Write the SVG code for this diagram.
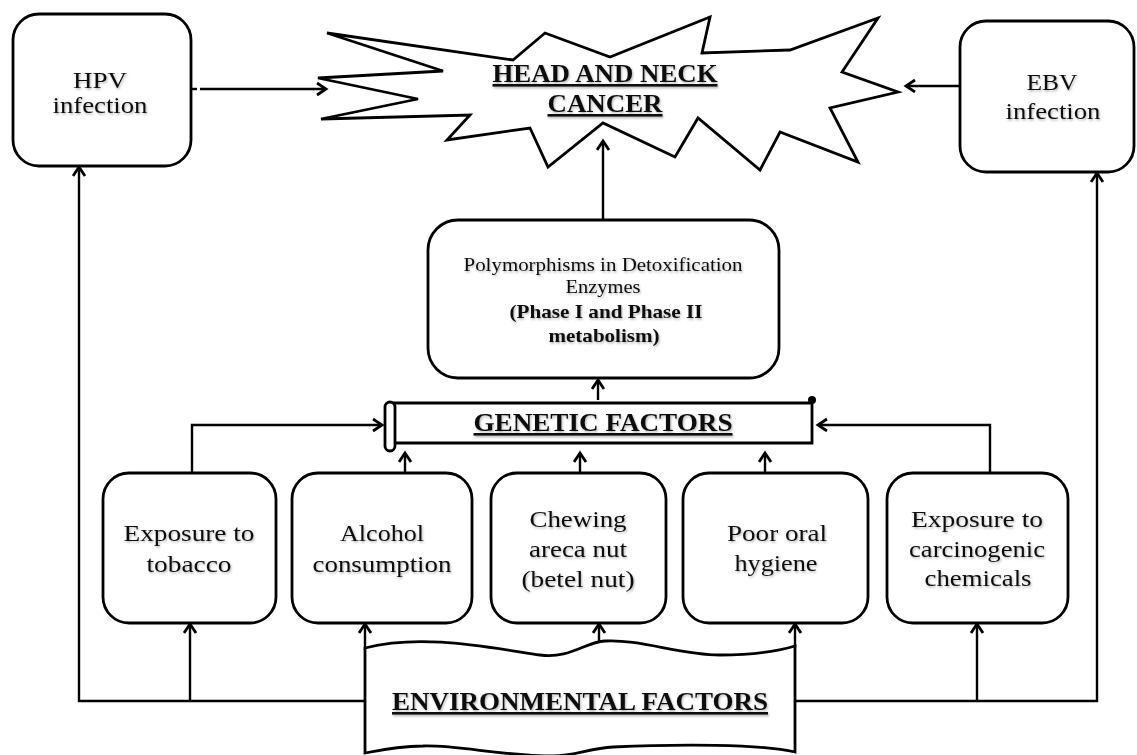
<svg xmlns="http://www.w3.org/2000/svg" width="1137" height="755" viewBox="0 0 1137 755">
<style>
.box{fill:#fff;stroke:#000;stroke-width:2.8}
.ln{fill:none;stroke:#000;stroke-width:2.4}
.t{font-family:"Liberation Serif","Times New Roman",serif;font-size:24px;fill:#111;text-anchor:middle}
.tp{font-family:"Liberation Serif","Times New Roman",serif;font-size:19px;fill:#111;text-anchor:middle}
.h{font-size:26px}
.b{font-weight:bold}
.u{text-decoration:underline}
.sh{filter:url(#shadow)}
</style>
<defs>
<filter id="shadow" x="-10%" y="-30%" width="120%" height="160%">
<feDropShadow dx="1" dy="1.5" stdDeviation="1" flood-color="#000" flood-opacity="0.3"/>
</filter>
<marker id="arr" markerUnits="userSpaceOnUse" markerWidth="16" markerHeight="16" refX="11" refY="7" orient="auto">
<path d="M2,1 L11,7 L2,13" fill="none" stroke="#000" stroke-width="2.8"/>
</marker>
</defs>

<g id="connectors">
<line class="ln" x1="191" y1="89" x2="197" y2="89"/>
<line class="ln" x1="200" y1="89" x2="326" y2="89" marker-end="url(#arr)"/>
<line class="ln" x1="960" y1="86" x2="906" y2="86" marker-end="url(#arr)"/>
<line class="ln" x1="603" y1="220" x2="603" y2="141" marker-end="url(#arr)"/>
<line class="ln" x1="598" y1="400" x2="598" y2="380" marker-end="url(#arr)"/>
<path class="ln" d="M192,473 V425 H382" marker-end="url(#arr)"/>
<path class="ln" d="M990,473 V425 H818" marker-end="url(#arr)"/>
<line class="ln" x1="405" y1="473" x2="405" y2="453" marker-end="url(#arr)"/>
<line class="ln" x1="580" y1="473" x2="580" y2="453" marker-end="url(#arr)"/>
<line class="ln" x1="765" y1="473" x2="765" y2="453" marker-end="url(#arr)"/>
<path class="ln" d="M365,701 H79 V167" marker-end="url(#arr)"/>
<line class="ln" x1="190" y1="701" x2="190" y2="624" marker-end="url(#arr)"/>
<line class="ln" x1="365" y1="650" x2="365" y2="624" marker-end="url(#arr)"/>
<line class="ln" x1="599" y1="645" x2="599" y2="624" marker-end="url(#arr)"/>
<line class="ln" x1="795" y1="648" x2="795" y2="624" marker-end="url(#arr)"/>
<path class="ln" d="M795,701 H1097 V173" marker-end="url(#arr)"/>
<line class="ln" x1="977" y1="701" x2="977" y2="624" marker-end="url(#arr)"/>
</g>

<g id="head-neck-cancer">
<path class="box" d="M327,33 L513,60 L545,33 L610,57 L710,17 L702,53 L790,50 L878,18 L842,72 L898,92 L830,108 L858,162 L780,132 L760,170 L698,118 L675,157 L603,123 L548,167 L530,128 L447,140 L470,115 L321,119 L418,99 L318,78 L443,71 Z"/>
<text class="t h b u sh" x="605" y="82" textLength="225" lengthAdjust="spacingAndGlyphs">HEAD AND NECK</text>
<text class="t h b u sh" x="605" y="112" textLength="115" lengthAdjust="spacingAndGlyphs">CANCER</text>
</g>

<g id="hpv">
<rect class="box" x="13" y="14" width="178" height="152" rx="26"/>
<text class="t sh" x="100" y="88" textLength="54" lengthAdjust="spacingAndGlyphs">HPV</text>
<text class="t sh" x="100" y="113" textLength="95" lengthAdjust="spacingAndGlyphs">infection</text>
</g>

<g id="ebv">
<rect class="box" x="960" y="21" width="174" height="151" rx="26"/>
<text class="t sh" x="1052" y="90" textLength="51" lengthAdjust="spacingAndGlyphs">EBV</text>
<text class="t sh" x="1053" y="119" textLength="95" lengthAdjust="spacingAndGlyphs">infection</text>
</g>

<g id="polymorphisms">
<rect class="box" x="428" y="220" width="351" height="158" rx="30"/>
<text class="tp sh" x="603" y="271" textLength="279" lengthAdjust="spacingAndGlyphs">Polymorphisms in Detoxification</text>
<text class="tp sh" x="603" y="293" textLength="75" lengthAdjust="spacingAndGlyphs">Enzymes</text>
<text class="tp b sh" x="606" y="318" textLength="193" lengthAdjust="spacingAndGlyphs">(Phase I  and Phase II</text>
<text class="tp b sh" x="604" y="342" textLength="111" lengthAdjust="spacingAndGlyphs">metabolism)</text>
</g>

<g id="genetic-factors">
<path class="box" d="M390,403 H812 V443 H390 Z"/>
<rect class="box" x="385" y="402" width="10" height="49" rx="5"/>
<circle cx="812" cy="400" r="4" fill="#000"/>
<text class="t h b u sh" x="603" y="431" textLength="259" lengthAdjust="spacingAndGlyphs">GENETIC  FACTORS</text>
</g>

<g id="tobacco">
<rect class="box" x="103" y="473" width="173" height="150" rx="26"/>
<text class="t sh" x="189" y="541" textLength="131" lengthAdjust="spacingAndGlyphs">Exposure to</text>
<text class="t sh" x="189" y="572" textLength="85" lengthAdjust="spacingAndGlyphs">tobacco</text>
</g>

<g id="alcohol">
<rect class="box" x="292" y="473" width="180" height="150" rx="26"/>
<text class="t sh" x="382" y="541" textLength="84" lengthAdjust="spacingAndGlyphs">Alcohol</text>
<text class="t sh" x="382" y="572" textLength="139" lengthAdjust="spacingAndGlyphs">consumption</text>
</g>

<g id="areca">
<rect class="box" x="491" y="473" width="175" height="150" rx="26"/>
<text class="t sh" x="578" y="527" textLength="97" lengthAdjust="spacingAndGlyphs">Chewing</text>
<text class="t sh" x="578" y="557" textLength="98" lengthAdjust="spacingAndGlyphs">areca nut</text>
<text class="t sh" x="578" y="587" textLength="113" lengthAdjust="spacingAndGlyphs">(betel nut)</text>
</g>

<g id="oral-hygiene">
<rect class="box" x="683" y="473" width="185" height="150" rx="26"/>
<text class="t sh" x="777" y="541" textLength="100" lengthAdjust="spacingAndGlyphs">Poor oral</text>
<text class="t sh" x="776" y="571" textLength="83" lengthAdjust="spacingAndGlyphs">hygiene</text>
</g>

<g id="carcinogenic">
<rect class="box" x="887" y="473" width="181" height="150" rx="26"/>
<text class="t sh" x="977" y="527" textLength="132" lengthAdjust="spacingAndGlyphs">Exposure to</text>
<text class="t sh" x="977" y="557" textLength="136" lengthAdjust="spacingAndGlyphs">carcinogenic</text>
<text class="t sh" x="978" y="586" textLength="107" lengthAdjust="spacingAndGlyphs">chemicals</text>
</g>

<g id="environmental-factors">
<path class="box" d="M365,648 C420,634 480,646 540,655 C570,659 585,642 605,641 C640,639 680,655 720,655 C760,655 785,649 795,646 V752 C760,744 680,744 613,747 C590,748 575,756 553,756 C500,756 460,745 423,746 C400,746 380,750 365,753 Z"/>
<text class="t h b u sh" x="580" y="710" textLength="376" lengthAdjust="spacingAndGlyphs">ENVIRONMENTAL  FACTORS</text>
</g>
</svg>
